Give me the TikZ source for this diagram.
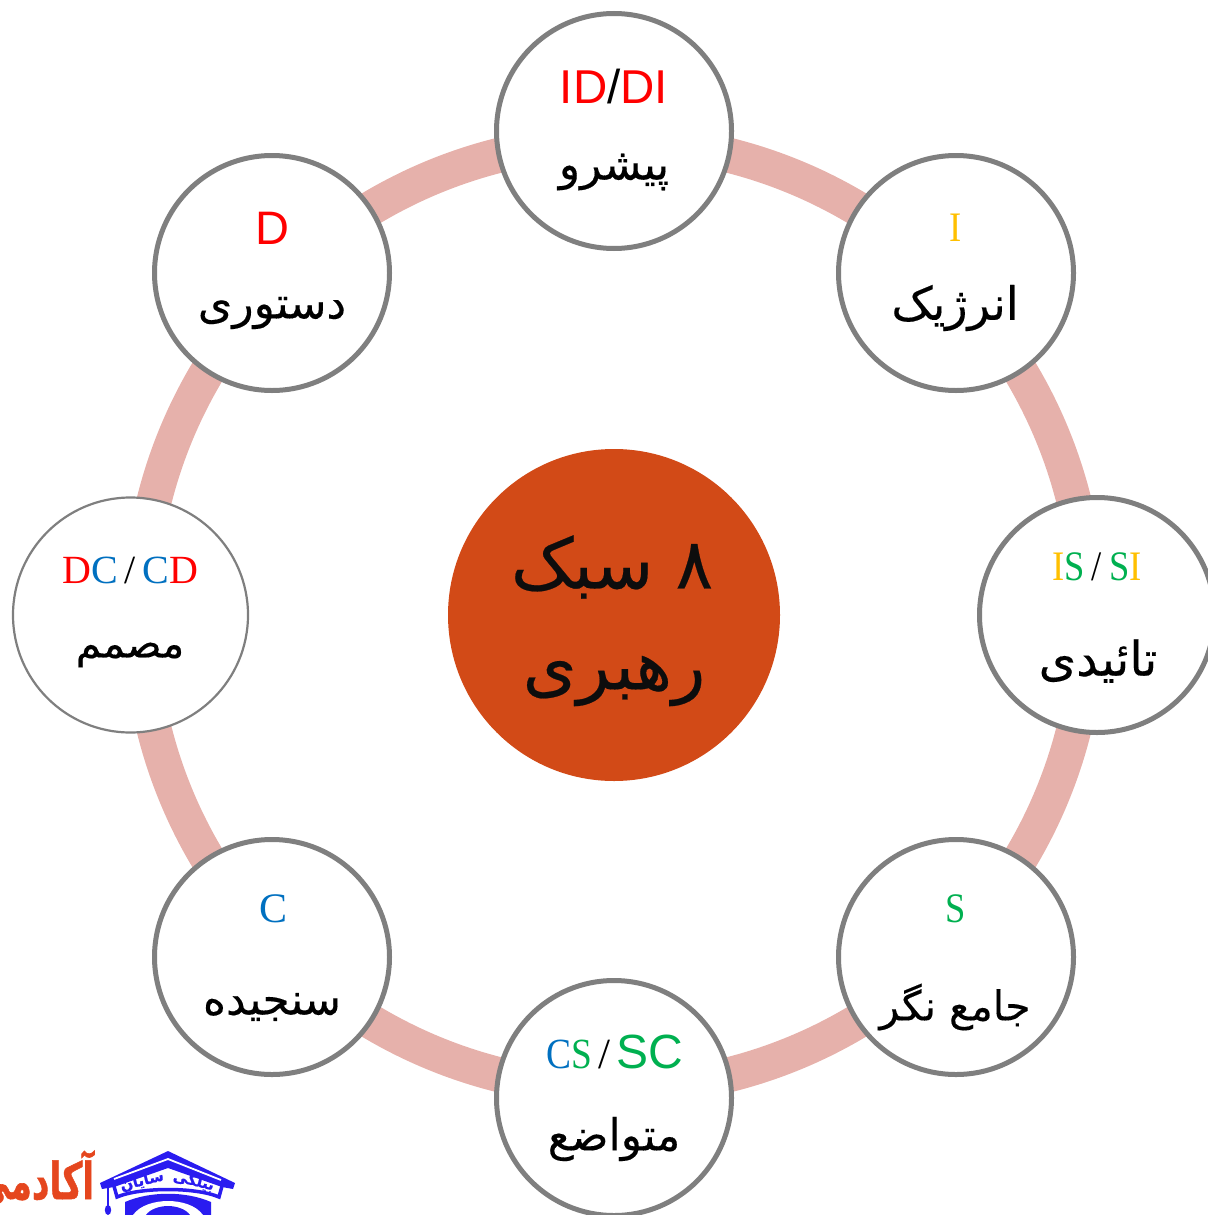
\documentclass[tikz,border=0pt]{standalone}
\usepackage{fontspec}
\setmainfont{Liberation Serif}
\newfontfamily\arabicfont[Script=Arabic,FakeBold=0.3]{DejaVu Sans}
\newfontfamily\arabicbold[Script=Arabic,FakeBold=1.2]{DejaVu Sans Bold}
\newfontfamily\logofont[Script=Arabic,FakeBold=0.5]{DejaVu Sans Bold}
\newfontfamily\arialfont{Liberation Sans}
\TeXXeTstate=1
\usetikzlibrary{backgrounds}
\definecolor{ringc}{HTML}{E6B1AB}
\definecolor{edgec}{HTML}{7F7F7F}
\definecolor{hubc}{HTML}{D24A17}
\definecolor{cred}{HTML}{FF0000}
\definecolor{cyel}{HTML}{FFC000}
\definecolor{cgrn}{HTML}{00B050}
\definecolor{cblu}{HTML}{0070C0}
\definecolor{logob}{HTML}{2A1CF0}
\definecolor{logoo}{HTML}{E5461E}
\newcommand{\fs}[1]{\fontsize{#1}{#1}\arabicfont}
\newcommand{\sr}[1]{\fontsize{#1}{#1}\selectfont}
\newcommand{\ar}[1]{\fontsize{#1}{#1}\arialfont}
\newcommand{\nar}[1]{\scalebox{0.87}[1]{#1}}
\tikzset{
  stylecircle/.style={circle,draw=edgec,fill=white,line width=5pt,minimum size=235pt,inner sep=0pt},
  thincircle/.style={stylecircle,line width=2.2pt},
  hubdisc/.style={circle,fill=hubc,minimum size=332pt,inner sep=0pt},
  ringarc/.style={draw=ringc,line width=35pt,bend left=22.5,looseness=0.885},
  codetext/.style={inner sep=0pt,anchor=base},
  nametext/.style={inner sep=0pt,anchor=center,text=black},
  hubtext/.style={inner sep=0pt,anchor=center,text=black!95}
}
\begin{document}
\begin{tikzpicture}[x=1pt,y=-1pt]
\useasboundingbox (0,0) rectangle (1207,1215);
\node[hubdisc] (hubn) at (614,615) {};
\node[stylecircle] (n1) at (614,131) {};
\node[stylecircle] (n2) at (956,273) {};
\node[stylecircle] (n3) at (1097,615) {};
\node[stylecircle] (n4) at (956,957) {};
\node[stylecircle] (n5) at (614,1098) {};
\node[stylecircle] (n6) at (272,957) {};
\node[thincircle] (n7) at (130.5,615) {};
\node[stylecircle] (n8) at (272,273) {};
\coordinate (r1) at (614,141);
\coordinate (r2) at (949,280);
\coordinate (r3) at (1088,615);
\coordinate (r4) at (949,950);
\coordinate (r5) at (614,1089);
\coordinate (r6) at (279,950);
\coordinate (r7) at (140,615);
\coordinate (r8) at (279,280);
\begin{scope}[on background layer]
\path[ringarc] (r1) to (r2);
\path[ringarc] (r2) to (r3);
\path[ringarc] (r3) to (r4);
\path[ringarc] (r4) to (r5);
\path[ringarc] (r5) to (r6);
\path[ringarc] (r6) to (r7);
\path[ringarc] (r7) to (r8);
\path[ringarc] (r8) to (r1);
\end{scope}
% codes
\node[codetext] (t1) at (614,103) {\ar{47.5}\textcolor{cred}{ID}\textcolor{black}{/}\textcolor{cred}{DI}};
\node[codetext] (t2) at (956,241) {\sr{42}\nar{\textcolor{cyel}{I}}};
\node[codetext] (t3) at (1097,580) {\sr{42}\nar{\textcolor{cyel}{I}\textcolor{cgrn}{S}\kern8pt\textcolor{black}{/}\kern8pt\textcolor{cgrn}{S}\textcolor{cyel}{I}}};
\node[codetext] (t4) at (956,922) {\sr{42}\nar{\textcolor{cgrn}{S}}};
\node[codetext] (t5) at (614.5,1068) {\sr{43}\nar{\textcolor{cblu}{C}\textcolor{cgrn}{S}}\kern6pt\textcolor{black}{/}\kern6pt{\ar{48}\textcolor{cgrn}{SC}}};
\node[codetext] (t6) at (273.5,922) {\sr{42}\textcolor{cblu}{C}};
\node[codetext] (t7) at (130.5,583) {\sr{40}\textcolor{cred}{D}\textcolor{cblu}{C}\textcolor{black}{\,/\,}\textcolor{cblu}{C}\textcolor{cred}{D}};
\node[codetext] (t8) at (272,244) {\ar{47}\textcolor{cred}{D}};
% names
\node[nametext] (f1) at (614,172) {\fs{44}\beginR پیشرو\endR};
\node[nametext] (f2) at (955,308) {\fs{46}\beginR انرژیک\endR};
\node[nametext] (f3) at (1098,661) {\fs{48}\beginR تائیدی\endR};
\node[nametext] (f4) at (955,1007) {\fs{41}\beginR جامع نگر\endR};
\node[nametext] (f5) at (614,1139) {\fs{44}\beginR متواضع\endR};
\node[nametext] (f6) at (272,1007) {\fs{44}\beginR سنجیده\endR};
\node[nametext] (f7) at (130,655) {\fs{41}\beginR مصمم\endR};
\node[nametext] (f8) at (272,313) {\fs{44}\beginR دستوری\endR};
\node[hubtext] (h1) at (612,567) {\fs{70}\beginR ۸ سبک\endR};
\node[hubtext] (h2) at (614,681) {\fs{69}\beginR رهبری\endR};
% logo
\begin{scope}
\clip (0,1130) rectangle (250,1215);
\node[inner sep=0pt,text=logoo,xscale=0.66,yscale=0.98] (lg1) at (35,1178) {\fontsize{52}{52}\arabicbold\beginR آکادمی\endR};
% roof
\fill[logob] (100,1183) -- (168,1151) -- (235,1183) -- (233,1189) -- (222,1187) -- (168,1168) -- (114,1187) -- (102,1189) -- cycle;
\draw[white,line width=1.8pt] (114,1179) -- (168,1159) -- (221,1180);
% band under the words
\draw[logob,line width=3.5pt] (114,1186) -- (117,1197) .. controls (140,1187) and (196,1187) .. (219,1197) -- (222,1186);
% tassel
\draw[logob,line width=1.8pt] (108,1186) -- (108,1206);
\fill[logob] (108,1210) ellipse (3.2 and 5);
% dome
\fill[logob] (125,1215) -- (125,1202) .. controls (150,1191) and (186,1191) .. (211,1202) -- (211,1215) -- cycle;
\fill[white] (133,1215) .. controls (140,1205) and (155,1201) .. (168,1201) .. controls (181,1201) and (196,1205) .. (203,1215) -- cycle;
\fill[logob] (146,1215) .. controls (150,1209) and (160,1206) .. (168,1206) .. controls (176,1206) and (186,1209) .. (190,1215) -- cycle;
\node[inner sep=0pt,text=logob,rotate=14] (lg2) at (142,1181) {\fontsize{15}{15}\logofont\beginR سایان\endR};
\node[inner sep=0pt,text=logob,rotate=-14] (lg3) at (194,1180) {\fontsize{15}{15}\logofont\beginR بیلگی\endR};
\end{scope}
\end{tikzpicture}
\end{document}
